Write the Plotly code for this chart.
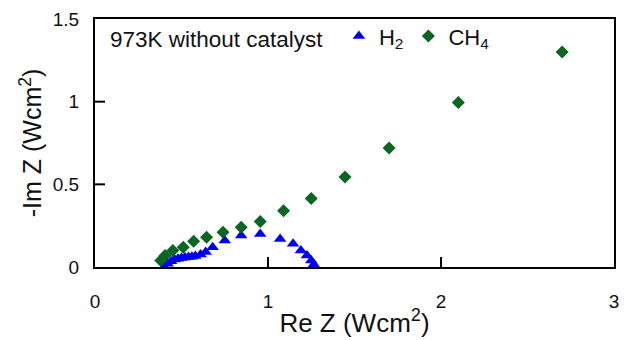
import plotly.graph_objects as go

# H2 data
h2_re = [0.40, 0.42, 0.44, 0.46, 0.48, 0.50, 0.52, 0.54, 0.56, 0.58, 0.61, 0.64,
         0.68, 0.75, 0.845, 0.955, 1.07, 1.145, 1.19, 1.225, 1.25, 1.265]
h2_im = [0.00, 0.02, 0.035, 0.045, 0.05, 0.055, 0.058, 0.06, 0.062, 0.066, 0.075, 0.09,
         0.12, 0.16, 0.19, 0.20, 0.17, 0.14, 0.10, 0.07, 0.04, 0.015]

# CH4 data
ch4_re = [0.38, 0.405, 0.45, 0.51, 0.57, 0.645, 0.74, 0.845, 0.955, 1.09, 1.25,
          1.445, 1.70, 2.10, 2.70]
ch4_im = [0.04, 0.07, 0.10, 0.12, 0.155, 0.18, 0.21, 0.24, 0.275, 0.34, 0.415,
          0.545, 0.72, 0.995, 1.30]

x_ticks = [0, 1, 2, 3]
y_ticks = [0, 0.5, 1, 1.5]
y_ticklabels = ["0", "0.5", "1", "1.5"]

FONT = "Liberation Sans, Arial, sans-serif"

fig = go.Figure()

# inward tick marks (~10 px) along the bottom and left axes, built from the tick lists
TICK_Y = 1.5 * 10 / 248
TICK_X = 3.0 * 10 / 519
tx, ty = [], []
for xv in x_ticks[1:-1]:
    tx += [xv, xv, None]
    ty += [0, TICK_Y, None]
for yv in y_ticks[1:-1]:
    tx += [0, TICK_X, None]
    ty += [yv, yv, None]
fig.add_trace(go.Scatter(x=tx, y=ty, mode="lines", line=dict(color="black", width=2),
                         showlegend=False, hoverinfo="skip", cliponaxis=False))

fig.add_trace(go.Scatter(x=h2_re, y=h2_im, mode="markers", name="H<sub>2</sub>",
                         marker=dict(symbol="triangle-up", size=11, color="#0000f0")))
fig.add_trace(go.Scatter(x=ch4_re, y=ch4_im, mode="markers", name="CH<sub>4</sub>",
                         marker=dict(symbol="diamond", size=10, color="#0a6622")))

axis_common = dict(showline=True, linecolor="black", linewidth=2, mirror=True,
                   ticks="", showgrid=False, zeroline=False, automargin=False,
                   tickfont=dict(family=FONT, size=19, color="#111"))

fig.update_xaxes(range=[0, 3], tickvals=x_ticks, ticktext=[str(v) for v in x_ticks],
                 title=dict(text="Re Z (Wcm<sup>2</sup>)", font=dict(family=FONT, size=26, color="#111"),
                            standoff=3),
                 ticklabelstandoff=16, **axis_common)
fig.update_yaxes(range=[0, 1.5], tickvals=y_ticks, ticktext=y_ticklabels,
                 title=dict(text="-Im Z (Wcm<sup>2</sup>)", font=dict(family=FONT, size=25, color="#111"),
                            standoff=4),
                 ticklabelstandoff=10, **axis_common)

fig.add_annotation(text="973K without catalyst", xref="paper", yref="paper",
                   x=0.025, y=0.975, xanchor="left", yanchor="top", showarrow=False,
                   font=dict(family=FONT, size=22.5, color="#111"))

fig.update_layout(
    width=630, height=340,
    margin=dict(l=95, r=16, t=19, b=73),
    plot_bgcolor="white", paper_bgcolor="white",
    showlegend=True,
    legend=dict(orientation="h", x=0.47, y=1.015, xanchor="left", yanchor="top",
                font=dict(family=FONT, size=22, color="#111"),
                bgcolor="rgba(0,0,0,0)", itemwidth=30, tracegroupgap=0),
)

fig.write_html("out.html")
